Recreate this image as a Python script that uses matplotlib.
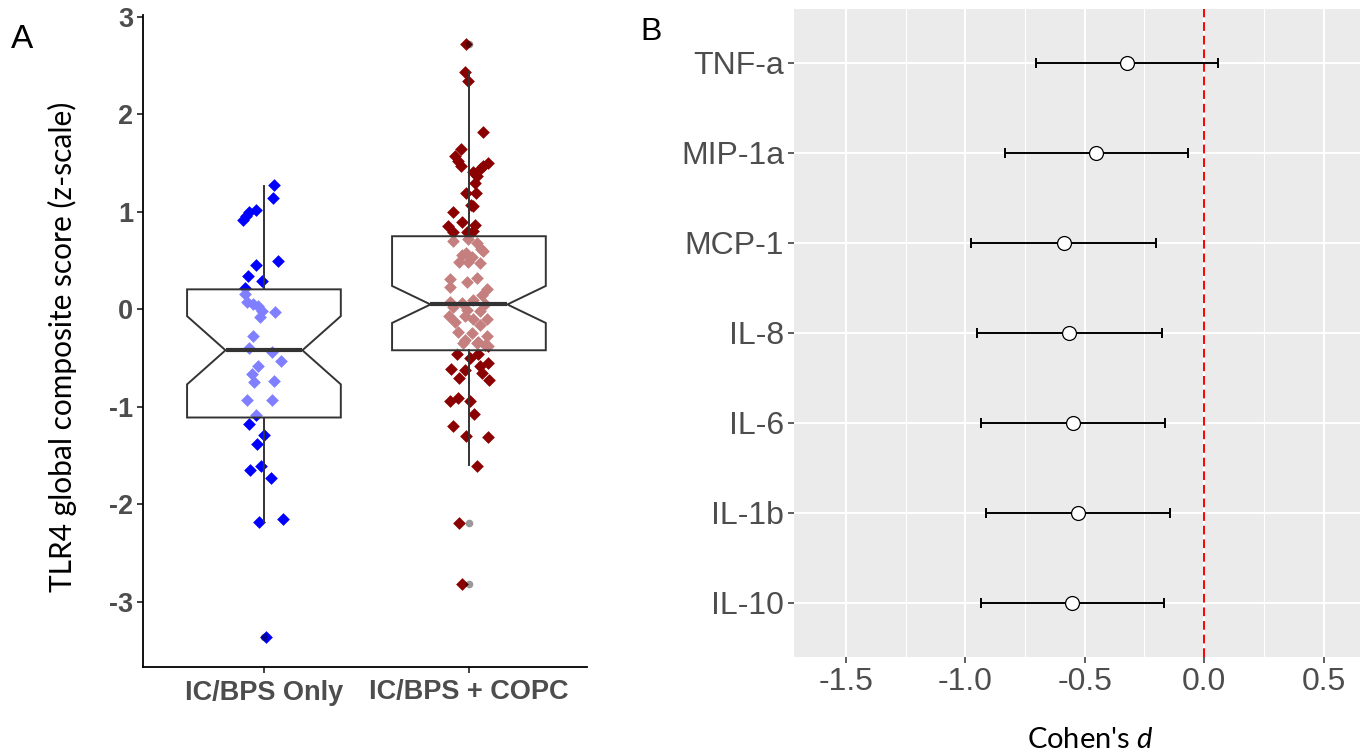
import matplotlib
matplotlib.use("Agg")
import matplotlib.pyplot as plt
import numpy as np

# ---------------- data ----------------
groups = ["IC/BPS Only", "IC/BPS + COPC"]

# jittered points (horizontal offset in pixels of the reference, value)
only_dx_px = [10, 9, -8, -15, -18, -21, 14, -8, -16, -2, -19,
              -19, -17, -11, -6, -2, -4, 11, -11, -15, 8, 17, -6, -12, -10, 10, -17, 8, -8,
              -15, 0, -7, -14, -3, 7, -5, 19, 2]
only_vals = [1.28, 1.14, 1.02, 1.00, 0.96, 0.92, 0.50, 0.45, 0.34, 0.29, 0.22,
             0.16, 0.08, 0.05, 0.03, -0.02, -0.08, -0.03, -0.27, -0.40, -0.44, -0.53, -0.58, -0.66, -0.75, -0.74, -0.93, -0.93, -1.08,
             -1.18, -1.29, -1.38, -1.65, -1.61, -1.73, -2.18, -2.15, -3.36]

copc_dx_px = [-3, -4, -1, 14, -8, -14, -11, -8, 19, 14, 11, 4, 8, 6, -3, 7, 2, 4, -16, -7, -21, 6, -16, -2, 4,
              -16, -1, 8, 14, -7, 3, -10, -1, 11, 12, -3, -19, -2, 8, -19, 18, 13, 4, -19, -7, 16, -16, -2, 11,
              -20, -4, 4, 18, -14, 11, -11, 3, 18, -4, 9, 19, -6, 8, 16,
              -12, 9, 1, 19, 11, -18, -4, 13, -10, 20, -19, -11, 1, 5, -16, -3, 19, 8, -10, -7]
copc_vals = [2.72, 2.44, 2.34, 1.82, 1.65, 1.57, 1.52, 1.47, 1.50, 1.47, 1.44, 1.41, 1.37, 1.30, 1.19, 1.19, 1.07, 1.06, 1.00, 0.90, 0.85, 0.87, 0.79, 0.79, 0.80,
             0.70, 0.72, 0.68, 0.60, 0.56, 0.54, 0.49, 0.49, 0.48, 0.62, 0.58, 0.31, 0.28, 0.32, 0.23, 0.21, 0.15, 0.10, 0.08, 0.07, 0.05, 0.02, -0.01, -0.02,
             -0.07, -0.07, -0.10, -0.10, -0.13, -0.16, -0.23, -0.24, -0.27, -0.31, -0.34, -0.38, -0.35, -0.35, -0.37,
             -0.46, -0.46, -0.50, -0.55, -0.58, -0.61, -0.62, -0.65, -0.70, -0.73, -0.94, -0.91, -0.94, -1.07, -1.20, -1.30, -1.31, -1.61, -2.19, -2.82]

# box summaries
box_q1 = [-1.11, -0.42]
box_med = [-0.42, 0.05]
box_q3 = [0.205, 0.75]
box_whislo = [-2.18, -1.60]
box_whishi = [1.27, 2.44]
box_cilo = [-0.77, -0.14]
box_cihi = [-0.07, 0.24]
box_fliers = [[-3.36], [2.72, -2.19, -2.82]]

# forest plot
markers_b = ["TNF-a", "MIP-1a", "MCP-1", "IL-8", "IL-6", "IL-1b", "IL-10"]
cohen_d = [-0.323, -0.454, -0.589, -0.566, -0.550, -0.530, -0.555]
ci_low = [-0.703, -0.834, -0.975, -0.952, -0.936, -0.913, -0.936]
ci_high = [0.059, -0.067, -0.200, -0.178, -0.166, -0.142, -0.169]

# ---------------- figure ----------------
W, H = 1360, 754
fig = plt.figure(figsize=(W / 100, H / 100), dpi=100)
plt.rcParams['mathtext.fontset'] = 'custom'
plt.rcParams['mathtext.rm'] = 'Lato'
plt.rcParams['mathtext.it'] = 'Lato:italic'


def frac_box(l, t, r, b):
    return [l / W, 1 - b / H, (r - l) / W, (b - t) / H]


# ---------- Panel A ----------
axA = fig.add_axes(frac_box(143, 15, 587, 667))
px_per_cat = 205.0
grey_txt = "#4D4D4D"

for i, (dx, vals, col) in enumerate([(only_dx_px, only_vals, "#0000FF"),
                                      (copc_dx_px, copc_vals, "#8B0000")]):
    xs = (i + 1) + np.array(dx) / px_per_cat
    axA.scatter(xs, vals, marker="D", s=42, color=col, linewidths=0, zorder=1)

stats = []
for i, g in enumerate(groups):
    stats.append(dict(label=g, med=box_med[i], q1=box_q1[i], q3=box_q3[i],
                      whislo=box_whislo[i], whishi=box_whishi[i],
                      cilo=box_cilo[i], cihi=box_cihi[i], fliers=box_fliers[i]))

axA.bxp(stats, positions=[1, 2], widths=0.75, shownotches=True, showcaps=False,
        patch_artist=True,
        boxprops=dict(facecolor=(1, 1, 1, 0.5), edgecolor="#333333", linewidth=1.4),
        whiskerprops=dict(color="#333333", linewidth=1.4),
        medianprops=dict(color="#333333", linewidth=3.0),
        flierprops=dict(marker="o", markerfacecolor="black", markeredgecolor="none",
                        alpha=0.4, markersize=5.5),
        zorder=2)

axA.set_xlim(0.41, 2.576)
axA.set_ylim(-3.67, 3.02)
axA.set_yticks([-3, -2, -1, 0, 1, 2, 3])
axA.set_yticklabels(["-3", "-2", "-1", "0", "1", "2", "3"])
axA.set_xticks([1, 2])
axA.set_xticklabels(groups)
for s in ["top", "right"]:
    axA.spines[s].set_visible(False)
for s in ["left", "bottom"]:
    axA.spines[s].set_linewidth(1.3)
    axA.spines[s].set_color("black")
axA.tick_params(axis="both", length=4, width=1.3, color="#333333", labelcolor=grey_txt)
for lab in axA.get_yticklabels() + axA.get_xticklabels():
    lab.set_fontfamily("Liberation Sans")
    lab.set_fontweight("bold")
    lab.set_fontsize(19.5)
axA.tick_params(axis="y", pad=3)
axA.tick_params(axis="x", pad=5)

fig.text(62 / W, 1 - 347 / H, "TLR4 global composite score (z-scale)", rotation=90,
         ha="center", va="center", fontfamily="Lato", fontsize=21.5, color="black")

# ---------- Panel B ----------
axB = fig.add_axes(frac_box(794, 9, 1360, 657))
axB.set_facecolor("#EBEBEB")
ypos = np.arange(len(markers_b), 0, -1)
axB.set_xlim(-1.717, 0.652)
axB.set_ylim(0.4, len(markers_b) + 0.6)
axB.set_xticks([-1.5, -1.0, -0.5, 0.0, 0.5])
axB.set_xticklabels(["-1.5", "-1.0", "-0.5", "0.0", "0.5"])
axB.set_xticks([-1.25, -0.75, -0.25, 0.25], minor=True)
axB.set_yticks(ypos)
axB.set_yticklabels(markers_b)
axB.grid(True, which="major", color="white", linewidth=1.5)
axB.grid(True, which="minor", axis="x", color="white", linewidth=0.8)
axB.set_axisbelow(True)
for s in axB.spines.values():
    s.set_visible(False)
axB.tick_params(axis="both", which="major", length=4, width=1.1, color="#333333",
                labelcolor=grey_txt, labelsize=23, pad=3)
axB.tick_params(axis="x", which="minor", length=0)
for lab in axB.get_xticklabels() + axB.get_yticklabels():
    lab.set_fontfamily("Liberation Sans")

axB.axvline(0, color="#FF0000", linewidth=1.4, linestyle=(0, (4.5, 2.5)), zorder=2)
d = np.array(cohen_d)
axB.errorbar(d, ypos, xerr=[d - np.array(ci_low), np.array(ci_high) - d], fmt="none",
             ecolor="black", elinewidth=1.4, capsize=3.8, capthick=1.4, zorder=3)
axB.plot(d, ypos, "o", markersize=10, markerfacecolor="white", markeredgecolor="black",
         markeredgewidth=0.9, zorder=4)

fig.text(1090 / W, 1 - 748 / H, r"Cohen's $d$", ha="center", va="baseline",
         fontfamily="Lato", fontsize=21, color="black")

# panel letters
fig.text(11 / W, 1 - 24 / H, "A", ha="left", va="top", fontfamily="Liberation Sans", fontsize=24)
fig.text(640 / W, 1 - 17 / H, "B", ha="left", va="top", fontfamily="Liberation Sans", fontsize=23)

fig.savefig("out.png", dpi=100)
